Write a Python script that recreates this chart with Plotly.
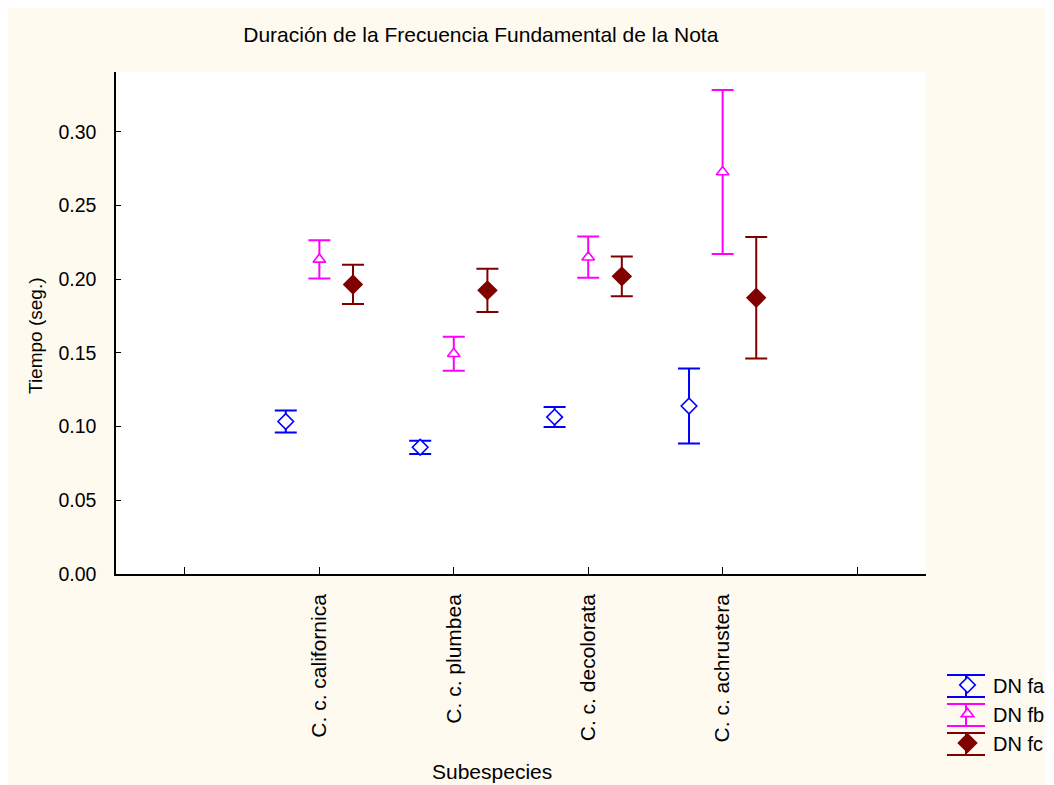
import plotly.graph_objects as go

categories = ["C. c. californica", "C. c. plumbea", "C. c. decolorata", "C. c. achrustera"]
series_names = ["DN fa", "DN fb", "DN fc"]
fa_mean = [0.1035, 0.0860, 0.1065, 0.1140]
fa_err = [0.0075, 0.0045, 0.0068, 0.0255]
fb_mean = [0.2135, 0.1495, 0.2150, 0.2728]
fb_err = [0.0130, 0.0115, 0.0140, 0.0557]
fc_mean = [0.1965, 0.1925, 0.2020, 0.1875]
fc_err = [0.0133, 0.0147, 0.0135, 0.0412]

colors = ["#0000FF", "#FF00FF", "#800000"]
fills = ["#FFFFFF", "#FFFFFF", "#800000"]
symbols = ["diamond", "triangle-up", "diamond"]
sizes = [12, 11, 14]
offsets = [-0.25, 0.0, 0.25]
means = [fa_mean, fb_mean, fc_mean]
errs = [fa_err, fb_err, fc_err]

FONT = "Liberation Sans, Arial, sans-serif"
W, H = 1046, 777

fig = go.Figure()
for k in range(3):
    xs = [i + offsets[k] for i in range(len(categories))]
    fig.add_trace(go.Scatter(
        x=xs, y=means[k], mode="markers", name=series_names[k],
        marker=dict(symbol=symbols[k], color=fills[k], size=sizes[k],
                    line=dict(color=colors[k], width=1.6)),
        error_y=dict(type="data", array=errs[k], visible=True,
                     color=colors[k], thickness=2, width=11),
    ))

# legend glyph decoration (error-bar style), positioned in paper coordinates
def py(Y):
    return (574 - Y) / 502.0

def px(X):
    return (X - 116) / 810.0

legend_centers = [686, 715, 744]
for k in range(3):
    c = legend_centers[k]
    line = dict(color=colors[k], width=2)
    fig.add_shape(type="line", xref="paper", yref="paper",
                  x0=px(947), x1=px(985), y0=py(c - 11), y1=py(c - 11), line=line)
    fig.add_shape(type="line", xref="paper", yref="paper",
                  x0=px(947), x1=px(985), y0=py(c + 11), y1=py(c + 11), line=line)
    fig.add_shape(type="line", xref="paper", yref="paper",
                  x0=px(966), x1=px(966), y0=py(c - 11), y1=py(c + 11), line=line)

fig.add_annotation(text="Subespecies", xref="paper", yref="paper",
                   x=px(492), y=py(771), xanchor="center", yanchor="middle",
                   showarrow=False, font=dict(size=21))
fig.add_annotation(text="Tiempo (seg.)", xref="paper", yref="paper",
                   x=px(35), y=py(336), xanchor="center", yanchor="middle",
                   textangle=-90, showarrow=False, font=dict(size=19))

fig.update_layout(
    width=W, height=H,
    paper_bgcolor="#FFFAF0", plot_bgcolor="#FFFFFF",
    margin=dict(l=108, r=128, t=64, b=211),
    font=dict(family=FONT, size=20, color="#000000"),
    title=dict(text="Duración de la Frecuencia Fundamental de la Nota",
               x=0.452, xanchor="center", y=1 - 27 / H, yanchor="middle",
               font=dict(size=21, color="#000000")),
    showlegend=True,
    legend=dict(xref="container", yref="container",
                x=934 / W, xanchor="left", y=1 - 657.4 / H, yanchor="top",
                bgcolor="rgba(0,0,0,0)", font=dict(size=20),
                itemwidth=41, tracegroupgap=0),
    xaxis=dict(
        range=[-1.513, 4.513], tickvals=[-1, 0, 1, 2, 3, 4],
        ticktext=[""] + categories + [""], tickangle=-90,
        tickfont=dict(size=21),
        showgrid=False, zeroline=False, showline=True, linecolor="#000000",
        linewidth=1.5, ticks="inside", ticklen=7, tickcolor="#000000",
        ticklabelstandoff=10,
    ),
    yaxis=dict(
        range=[0, 0.3407], tickvals=[0, 0.05, 0.10, 0.15, 0.20, 0.25, 0.30],
        tickformat=".2f", tickfont=dict(size=19.5),
        showgrid=False, zeroline=False, showline=True,
        linecolor="#000000", linewidth=1.5, ticks="inside", ticklen=5,
        tickcolor="#000000", ticklabelstandoff=14,
    ),
)

fig.write_html("out.html")
